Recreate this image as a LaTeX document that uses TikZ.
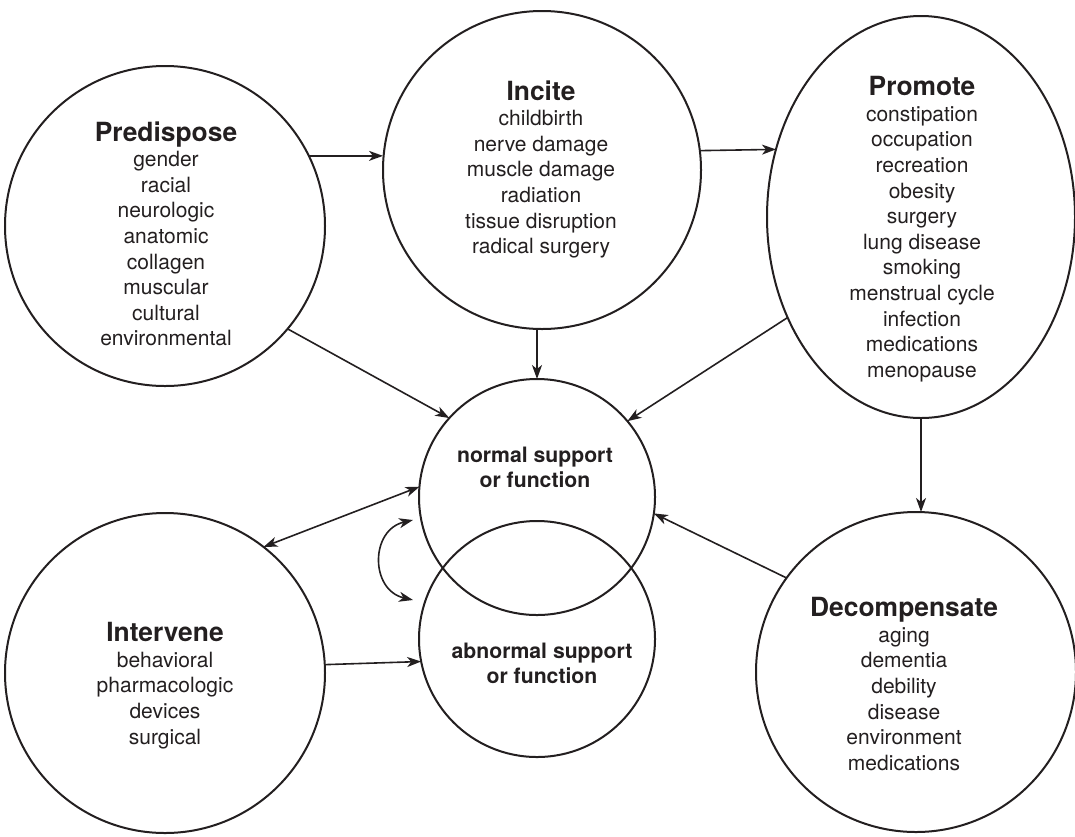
\documentclass[tikz,border=0pt]{standalone}
\usepackage{fontspec}
\setmainfont{TeX Gyre Heros}
\usetikzlibrary{arrows.meta,shapes.geometric}
\definecolor{ink}{HTML}{231F20}
\newcommand\blocktitle[1]{{\fontsize{13.2}{12.8}\selectfont\bfseries #1}}
\begin{document}
\begin{tikzpicture}[x=0.5pt,y=-0.5pt,
  ring/.style={circle,draw=ink,line width=1pt,inner sep=0pt,outer sep=0pt,minimum size=#1},
  oval/.style={ellipse,draw=ink,line width=1pt,inner sep=0pt,outer sep=0pt},
  listtext/.style={text=ink,align=center,inner sep=0pt,anchor=north,
    font=\fontsize{10.5}{12.8}\selectfont},
  coretext/.style={text=ink,align=center,inner sep=0pt,anchor=north,
    font=\fontsize{10.6}{12.5}\selectfont\bfseries},
  link/.style={draw=ink,line width=0.8pt,-{Stealth[length=7pt,width=5pt,inset=2pt]}},
  duallink/.style={draw=ink,line width=0.8pt,
    {Stealth[length=7pt,width=5pt,inset=2pt]}-{Stealth[length=7pt,width=5pt,inset=2pt]}}]

\useasboundingbox (0,0) rectangle (1075,836);

% outer factor circles
\node[ring=160pt] (pre) at (165,226) {};
\node[ring=159pt] (inc) at (542,170) {};
\node[oval,minimum width=154pt,minimum height=201pt] (pro) at (921,217) {};
\node[ring=160pt] (int) at (165,673) {};
\node[ring=160pt] (dec) at (916,672) {};

% central overlapping states
\node[ring=118pt] (nor) at (537,497) {};
\node[ring=118pt] (abn) at (537,639) {};

% texts
\node[listtext] (preT) at (166,121) {\blocktitle{Predispose}\\gender\\racial\\neurologic\\anatomic\\collagen\\muscular\\cultural\\environmental};
\node[listtext] (incT) at (541,80) {\blocktitle{Incite}\\childbirth\\nerve damage\\muscle damage\\radiation\\tissue disruption\\radical surgery};
\node[listtext] (proT) at (922,76) {\blocktitle{Promote}\\constipation\\occupation\\recreation\\obesity\\surgery\\lung disease\\smoking\\menstrual cycle\\infection\\medications\\menopause};
\node[listtext] (intT) at (165,622) {\blocktitle{Intervene}\\behavioral\\pharmacologic\\devices\\surgical};
\node[listtext] (decT) at (904,597) {\blocktitle{Decompensate}\\aging\\dementia\\debility\\disease\\environment\\medications};
\node[coretext] (norT) at (535,447) {normal support\\or function};
\node[coretext] (abnT) at (542,643) {abnormal support\\or function};

% connectors
\draw[link] (pre.26.7) -- (pre.26.7 -| inc.west);
\draw[link] (inc.7.2) -- (pro.155.2);
\draw[link] (pre.-40.2) -- (nor.138.7);
\draw[link] (nor.north |- inc.south) -- (nor.north);
\draw[link] (pro.217.1) -- (nor.40.2);
\draw[link] (pro.south) -- (pro.south |- dec.north);
\draw[link] (dec.144) -- (nor.-8.9);
\draw[duallink] (nor.175.6) -- (int.52.3);
\draw[link] (int.3.6) -- (abn.191.7);

% exchange between normal and abnormal states
\coordinate (swapTop) at (413,520);
\coordinate (swapBot) at (413,600);
\draw[duallink] (swapTop) .. controls (370,530) and (370,590) .. (swapBot);

\end{tikzpicture}
\end{document}
